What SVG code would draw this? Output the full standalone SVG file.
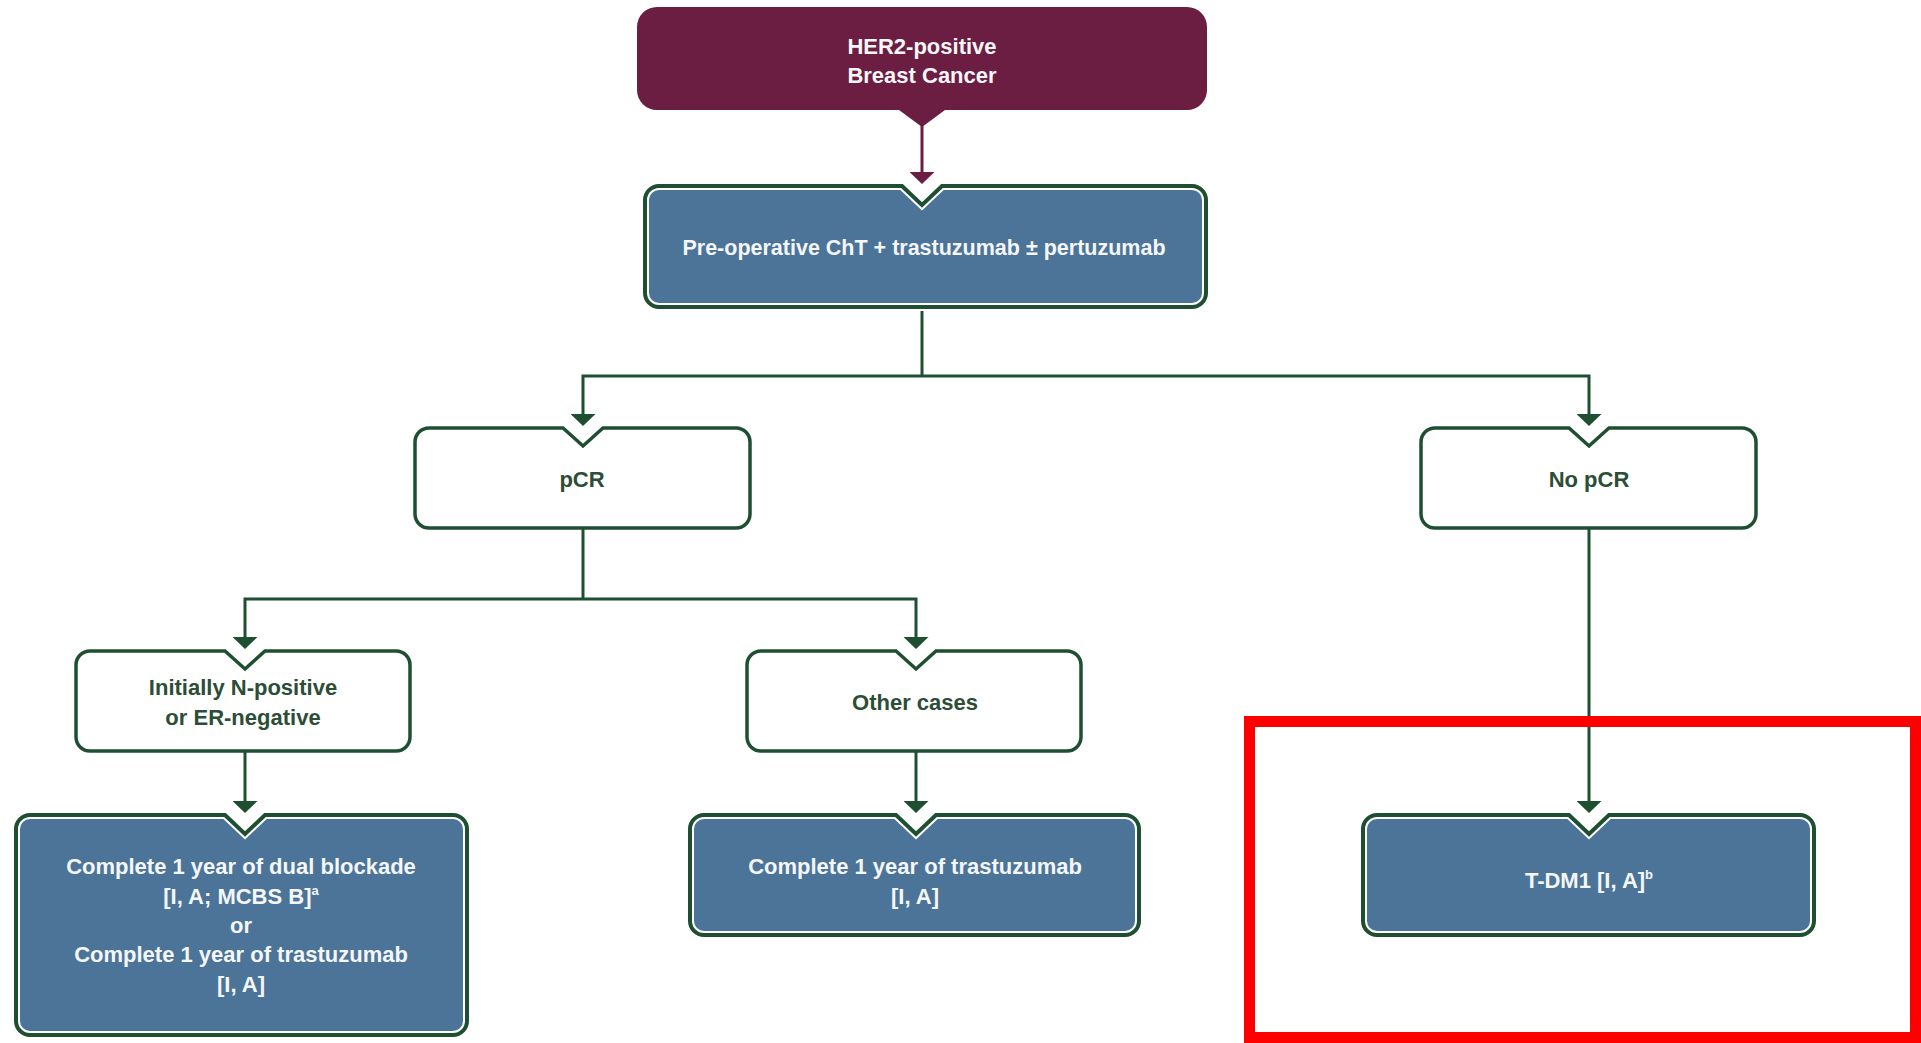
<svg xmlns="http://www.w3.org/2000/svg" width="1921" height="1043" viewBox="0 0 1921 1043">
<style>
  .t { font-family: "Liberation Sans", Arial, sans-serif; font-weight: bold; font-size: 22px; text-anchor: middle; }
  .tw { fill: #f4f6f8; }
  .tg { fill: #2c4d36; }
  .wbox { fill: #ffffff; stroke: #1f4f31; stroke-width: 3.5; }
  .bband { fill: #4c7499; stroke: #ffffff; stroke-width: 8; }
  .bline { fill: none; stroke: #1f4f31; stroke-width: 4; }
  .conn { fill: none; stroke: #1f4f31; stroke-width: 3; }
  .connm { fill: none; stroke: #6b1e42; stroke-width: 3; }
</style>
<defs>
  <marker id="ah" viewBox="0 0 12 25" refX="6" refY="12.5" markerWidth="12" markerHeight="25" markerUnits="userSpaceOnUse" orient="auto-start-reverse">
    <path d="M0,0 L12,12.5 L0,25 Z" fill="#1f4f31"/>
  </marker>
  <marker id="ahm" viewBox="0 0 12 25" refX="6" refY="12.5" markerWidth="12" markerHeight="25" markerUnits="userSpaceOnUse" orient="auto">
    <path d="M0,0 L12,12.5 L0,25 Z" fill="#6b1e42"/>
  </marker>
</defs>
<rect width="1921" height="1043" fill="#ffffff"/>

<g id="connectors">
  <path class="connm" d="M922,125 V178" marker-end="url(#ahm)"/>
  <path class="conn" d="M922,307 V376"/>
  <path class="conn" d="M583,420 V376 H1589 V420" marker-start="url(#ah)" marker-end="url(#ah)"/>
  <path class="conn" d="M583,528 V599"/>
  <path class="conn" d="M245,643 V599 H916 V643" marker-start="url(#ah)" marker-end="url(#ah)"/>
  <path class="conn" d="M245,751 V807" marker-end="url(#ah)"/>
  <path class="conn" d="M916,751 V807" marker-end="url(#ah)"/>
  <path class="conn" d="M1589,528 V807" marker-end="url(#ah)"/>
</g>

<g id="node-her2">
  <path d="M657,7 H1187 A20,20 0 0 1 1207,27 V90 A20,20 0 0 1 1187,110 H945 L922,127 L899,110 H657 A20,20 0 0 1 637,90 V27 A20,20 0 0 1 657,7 Z" fill="#6b1e42"/>
  <text class="t tw" x="922" y="54">HER2-positive</text>
  <text class="t tw" x="922" y="83">Breast Cancer</text>
</g>

<g id="node-preop">
  <path class="bband" d="M659,186 H902 L922,205 L942,186 H1192 A14,14 0 0 1 1206,200 V293 A14,14 0 0 1 1192,307 H659 A14,14 0 0 1 645,293 V200 A14,14 0 0 1 659,186 Z"/>
  <path class="bline" d="M659,186 H902 L922,205 L942,186 H1192 A14,14 0 0 1 1206,200 V293 A14,14 0 0 1 1192,307 H659 A14,14 0 0 1 645,293 V200 A14,14 0 0 1 659,186 Z"/>
  <text class="t tw" x="924" y="255" style="font-size:21.5px">Pre-operative ChT + trastuzumab ± pertuzumab</text>
</g>

<g id="node-pcr">
  <path class="wbox" d="M429,428 H563 L583,446 L603,428 H736 A14,14 0 0 1 750,442 V514 A14,14 0 0 1 736,528 H429 A14,14 0 0 1 415,514 V442 A14,14 0 0 1 429,428 Z"/>
  <text class="t tg" x="582" y="487">pCR</text>
</g>

<g id="node-nopcr">
  <path class="wbox" d="M1435,428 H1569 L1589,446 L1609,428 H1742 A14,14 0 0 1 1756,442 V514 A14,14 0 0 1 1742,528 H1435 A14,14 0 0 1 1421,514 V442 A14,14 0 0 1 1435,428 Z"/>
  <text class="t tg" x="1589" y="487">No pCR</text>
</g>

<g id="node-initially">
  <path class="wbox" d="M90,651 H225 L245,669 L265,651 H396 A14,14 0 0 1 410,665 V737 A14,14 0 0 1 396,751 H90 A14,14 0 0 1 76,737 V665 A14,14 0 0 1 90,651 Z"/>
  <text class="t tg" x="243" y="695">Initially N-positive</text>
  <text class="t tg" x="243" y="725">or ER-negative</text>
</g>

<g id="node-other">
  <path class="wbox" d="M761,651 H896 L916,669 L936,651 H1067 A14,14 0 0 1 1081,665 V737 A14,14 0 0 1 1067,751 H761 A14,14 0 0 1 747,737 V665 A14,14 0 0 1 761,651 Z"/>
  <text class="t tg" x="915" y="710">Other cases</text>
</g>

<g id="node-dual">
  <path class="bband" d="M30,815 H225 L245,834 L265,815 H453 A14,14 0 0 1 467,829 V1021 A14,14 0 0 1 453,1035 H30 A14,14 0 0 1 16,1021 V829 A14,14 0 0 1 30,815 Z"/>
  <path class="bline" d="M30,815 H225 L245,834 L265,815 H453 A14,14 0 0 1 467,829 V1021 A14,14 0 0 1 453,1035 H30 A14,14 0 0 1 16,1021 V829 A14,14 0 0 1 30,815 Z"/>
  <text class="t tw" x="241" y="874">Complete 1 year of dual blockade</text>
  <text class="t tw" x="241" y="904">[I, A; MCBS B]<tspan font-size="13" dy="-9">a</tspan></text>
  <text class="t tw" x="241" y="933">or</text>
  <text class="t tw" x="241" y="962">Complete 1 year of trastuzumab</text>
  <text class="t tw" x="241" y="992">[I, A]</text>
</g>

<g id="node-trastuzumab">
  <path class="bband" d="M704,815 H896 L916,834 L936,815 H1125 A14,14 0 0 1 1139,829 V921 A14,14 0 0 1 1125,935 H704 A14,14 0 0 1 690,921 V829 A14,14 0 0 1 704,815 Z"/>
  <path class="bline" d="M704,815 H896 L916,834 L936,815 H1125 A14,14 0 0 1 1139,829 V921 A14,14 0 0 1 1125,935 H704 A14,14 0 0 1 690,921 V829 A14,14 0 0 1 704,815 Z"/>
  <text class="t tw" x="915" y="874">Complete 1 year of trastuzumab</text>
  <text class="t tw" x="915" y="904">[I, A]</text>
</g>

<g id="node-tdm1">
  <path class="bband" d="M1377,815 H1569 L1589,834 L1609,815 H1800 A14,14 0 0 1 1814,829 V921 A14,14 0 0 1 1800,935 H1377 A14,14 0 0 1 1363,921 V829 A14,14 0 0 1 1377,815 Z"/>
  <path class="bline" d="M1377,815 H1569 L1589,834 L1609,815 H1800 A14,14 0 0 1 1814,829 V921 A14,14 0 0 1 1800,935 H1377 A14,14 0 0 1 1363,921 V829 A14,14 0 0 1 1377,815 Z"/>
  <text class="t tw" x="1589" y="888">T-DM1 [I, A]<tspan font-size="13" dy="-9">b</tspan></text>
</g>

<rect id="highlight" x="1249.5" y="721.5" width="666" height="316" fill="none" stroke="#ff0000" stroke-width="11"/>
</svg>
